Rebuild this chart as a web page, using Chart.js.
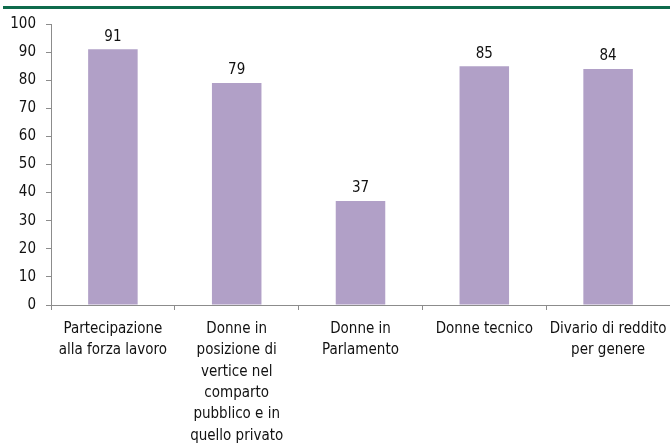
<!DOCTYPE html>
<html>
<head>
<meta charset="utf-8">
<script src="https://cdn.jsdelivr.net/npm/chart.js@4.4.1/dist/chart.umd.min.js"></script>
<style>
  html, body { margin: 0; padding: 0; background: #ffffff; }
  #box { width: 670px; height: 443px; position: relative; }
</style>
</head>
<body>
<div id="box"><canvas id="grafico"></canvas></div>
<script>
// dati
const categorie = [
    ['Partecipazione', 'alla forza lavoro'],
    ['Donne in', 'posizione di', 'vertice nel', 'comparto', 'pubblico e in', 'quello privato'],
    ['Donne in', 'Parlamento'],
    ['Donne tecnico'],
    ['Divario di reddito', 'per genere']
];
const valori = [91, 79, 37, 85, 84];
const tickY = [0, 10, 20, 30, 40, 50, 60, 70, 80, 90, 100];

const FONT = "'Liberation Sans Narrow', 'Arial Narrow', 'DejaVu Sans Condensed', sans-serif";

// linea verde in alto
const lineaVerde = {
    id: 'lineaVerde',
    beforeDraw(chart) {
        const c = chart.ctx;
        c.save();
        c.fillStyle = '#0e6b4c';
        c.fillRect(3, 6, chart.width - 3, 3);
        c.restore();
    }
};

// etichette dei valori sopra le barre
const etichette = {
    id: 'etichette',
    afterDatasetsDraw(chart) {
        const c = chart.ctx;
        const meta = chart.getDatasetMeta(0);
        c.save();
        c.font = '15px ' + FONT;
        c.fillStyle = '#111111';
        c.textAlign = 'center';
        c.textBaseline = 'bottom';
        meta.data.forEach(function(bar, i) {
            c.fillText(valori[i], bar.x, bar.y - 5);
        });
        c.restore();
    }
};

new Chart(document.getElementById('grafico'), {
    type: 'bar',
    data: {
        labels: categorie,
        datasets: [{
            data: valori,
            backgroundColor: '#b1a0c7',
            borderWidth: 0,
            barPercentage: 0.4,
            categoryPercentage: 1
        }]
    },
    options: {
        responsive: true,
        maintainAspectRatio: false,
        animation: false,
        layout: { padding: { top: 24, right: -3, left: 0, bottom: 0 } },
        plugins: {
            legend: { display: false },
            tooltip: { enabled: false }
        },
        scales: {
            y: {
                min: 0,
                max: 100,
                afterBuildTicks(scale) {
                    scale.ticks = tickY.map(v => ({ value: v }));
                },
                afterFit(scale) { scale.width = 51; },
                border: { color: '#8c8c8c', width: 1 },
                grid: { drawOnChartArea: false, tickLength: 5, color: '#8c8c8c' },
                ticks: { color: '#111111', padding: 10, font: { family: FONT, size: 15 } }
            },
            x: {
                afterFit(scale) {
                    scale.height = 138;
                    scale.paddingLeft = 0;
                    scale.paddingRight = 0;
                },
                border: { color: '#8c8c8c', width: 1 },
                grid: { offset: true, drawOnChartArea: false, tickLength: 5, color: '#8c8c8c' },
                ticks: {
                    color: '#111111',
                    padding: 8,
                    maxRotation: 0,
                    autoSkip: false,
                    font: { family: FONT, size: 15, lineHeight: 1.43 }
                }
            }
        }
    },
    plugins: [lineaVerde, etichette]
});
</script>
</body>
</html>
